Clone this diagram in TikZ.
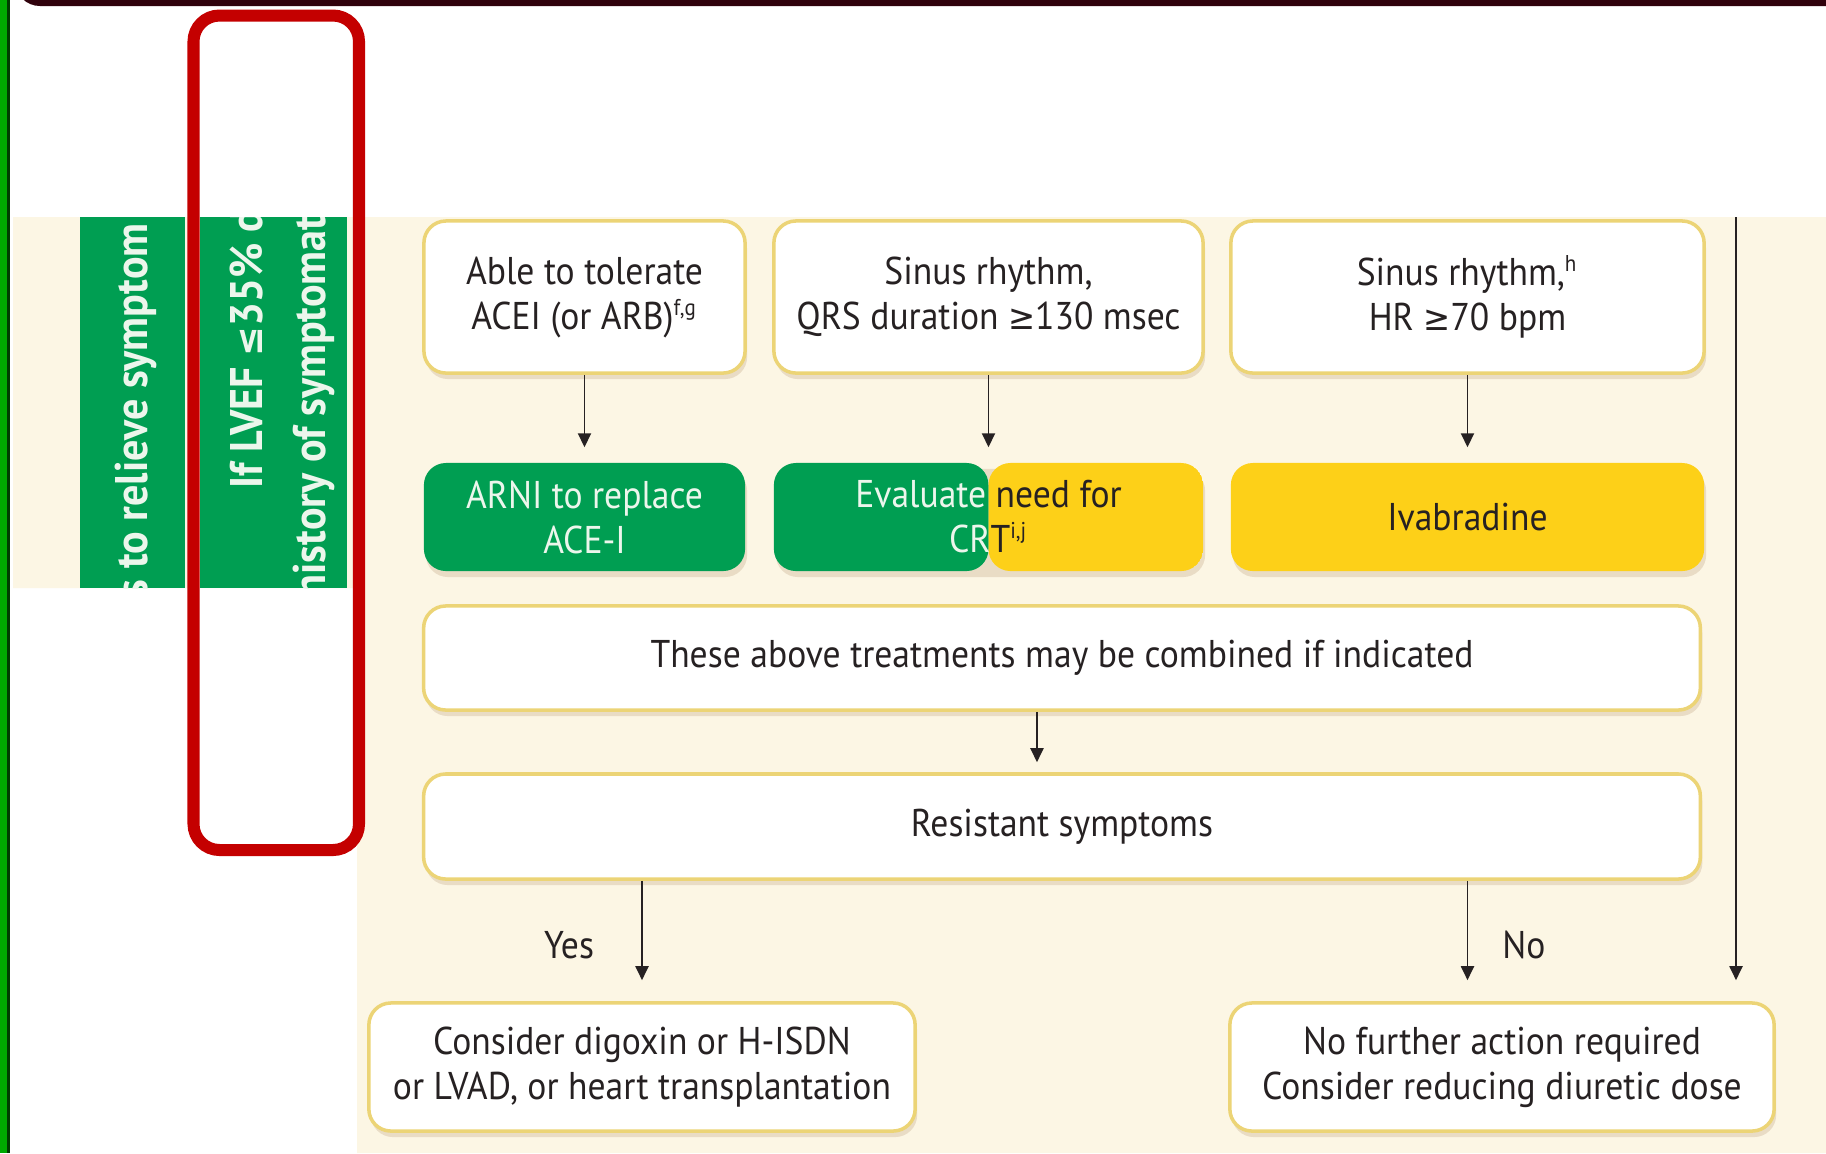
\documentclass[tikz,border=0pt]{standalone}
\usepackage{fontspec}
\setmainfont{PT Sans}[FakeStretch=0.92]
\newfontfamily\symfont{DejaVu Sans}[FakeStretch=0.92]
\usetikzlibrary{arrows.meta, shadows, calc}

\definecolor{escgreen}{RGB}{0,158,82}
\definecolor{escyellow}{RGB}{253,208,24}
\definecolor{cream}{RGB}{252,246,228}
\definecolor{boxline}{RGB}{236,212,118}
\definecolor{txt}{RGB}{38,33,34}
\definecolor{paletext}{RGB}{236,246,236}
\definecolor{sidegreen}{RGB}{0,168,0}
\definecolor{topbar}{RGB}{48,2,12}
\definecolor{hlred}{RGB}{196,0,0}

% small symbols and footnote letters
\newcommand{\geqsym}{{\symfont\fontsize{10}{10}\selectfont ≥}}
\newcommand{\leqbar}{{\symfont\fontsize{11}{11}\selectfont ≤}}
\newcommand{\fnote}[1]{\textsuperscript{\fontsize{6.5}{6.5}\selectfont #1}}

\tikzset{
  softshadow/.style={drop shadow={shadow xshift=0.2mm, shadow yshift=-0.6mm, opacity=0.22, fill=brown!60!gray}},
  condbox/.style={draw=boxline, line width=1pt, fill=white, rounded corners=2.2mm,
    align=center, text=txt, inner sep=0pt, softshadow},
  greenbox/.style={fill=escgreen, rounded corners=2.2mm, align=center, text=paletext,
    inner sep=0pt, softshadow},
  yellowbox/.style={fill=escyellow, rounded corners=2.2mm, align=center, text=txt,
    inner sep=0pt, softshadow},
  splitbox/.style={rounded corners=2.2mm, align=center, text=txt, inner sep=0pt, softshadow,
    path picture={
      \fill[escgreen] (path picture bounding box.south west) rectangle (path picture bounding box.north);
      \fill[escyellow] (path picture bounding box.south) rectangle (path picture bounding box.north east);}},
  bartext/.style={rotate=90, anchor=base west, inner sep=0pt, text=paletext,
    font=\bfseries\fontsize{13}{15}\selectfont},
  lbl/.style={text=txt, inner sep=0pt},
  arr/.style={draw=txt, line width=0.55pt, -{Triangle[length=1.4mm,width=1.3mm]}},
}

\begin{document}
\begin{tikzpicture}[x=0.01cm, y=-0.01cm, font=\fontsize{11}{12.8}\selectfont]

% page
\useasboundingbox (0,0) rectangle (1826,1153);
\clip (0,0) rectangle (1826,1153);
\fill[white] (0,0) rectangle (1826,1153);

% background panels
\fill[cream] (13,217) -- (1826,217) -- (1826,1153) -- (357,1153) -- (357,588) -- (13,588) -- cycle;
\fill[sidegreen] (0,0) rectangle (7,1153);
\fill[sidegreen!35!black] (7,0) rectangle (10,1153);
\fill[topbar, rounded corners=2.5mm] (15,-40) rectangle (1880,6);

% green side bars (text runs out of the bars)
\fill[escgreen] (80,217) rectangle (185,588);
\fill[escgreen] (200,217) rectangle (347,588);
\begin{scope}
  \clip (80,217) rectangle (185,588);
  \node[bartext] (relieve) at (147,598) {s to relieve symptom};
\end{scope}
\begin{scope}
  \clip (200,217) rectangle (347,588);
  \node[bartext] (lvef) at (262,489) {If LVEF \leqbar35\% d};
  \node[bartext] (history) at (325,598) {history of symptomat};
\end{scope}

% conditions
\node[condbox, minimum width=32.1mm, minimum height=15.2mm] (able) at (584.5,297)
  {Able to tolerate\\ACEI (or ARB)\fnote{f,g}};
\node[condbox, minimum width=42.9mm, minimum height=15.2mm] (qrs) at (988.5,297)
  {Sinus rhythm,\\QRS duration \geqsym130 msec};
\node[condbox, minimum width=47.3mm, minimum height=15.2mm] (sinus) at (1467.5,297)
  {Sinus rhythm,\fnote{h}\\HR \geqsym70 bpm};

% treatments
\node[greenbox, minimum width=32.1mm, minimum height=10.8mm] (arni) at (584.5,517)
  {ARNI to replace\\ACE-I};
\node[splitbox, minimum width=42.9mm, minimum height=10.8mm] (crt) at (988.5,517)
  {{\color{paletext}Evaluate} need for\\{\color{paletext}CR}T\fnote{i,j}};
\node[yellowbox, minimum width=47.3mm, minimum height=10.8mm] (ivab) at (1467.5,517)
  {Ivabradine};

\node[condbox, minimum width=127.6mm, minimum height=10.4mm] (comb) at (1062,658)
  {These above treatments may be combined if indicated};
\node[condbox, minimum width=127.6mm, minimum height=10.5mm] (resist) at (1062,826.5)
  {Resistant symptoms};

\node[condbox, minimum width=54.6mm, minimum height=12.8mm] (digox) at (642,1067)
  {Consider digoxin or H-ISDN\\or LVAD, or heart transplantation};
\node[condbox, minimum width=54.4mm, minimum height=12.8mm] (nofur) at (1502,1067)
  {No further action required\\Consider reducing diuretic dose};

% connectors
\foreach \a/\b in {able/arni, qrs/crt, sinus/ivab}
  \draw[arr, shorten >=1.5mm] (\a) -- (\b);
\draw[arr, shorten >=1mm] ([xshift=-2.5mm]comb.south) -- ([xshift=-2.5mm]resist.north);
\draw[arr, shorten >=2.1mm] (resist.south -| digox.north) -- (digox.north);
\draw[arr, shorten >=2.1mm] (resist.south -| ivab.south) -- (nofur.north -| ivab.south);
\coordinate (feed) at (1736,217);
\draw[arr, shorten >=2.1mm] (feed) -- (feed |- nofur.north);

\node[lbl] (yes) at (569,945) {Yes};
\node[lbl] (no) at (1524,945) {No};

% highlight
\draw[hlred, line width=1.2mm, rounded corners=2.6mm] (193.5,15.5) rectangle (359,850);

\end{tikzpicture}
\end{document}
